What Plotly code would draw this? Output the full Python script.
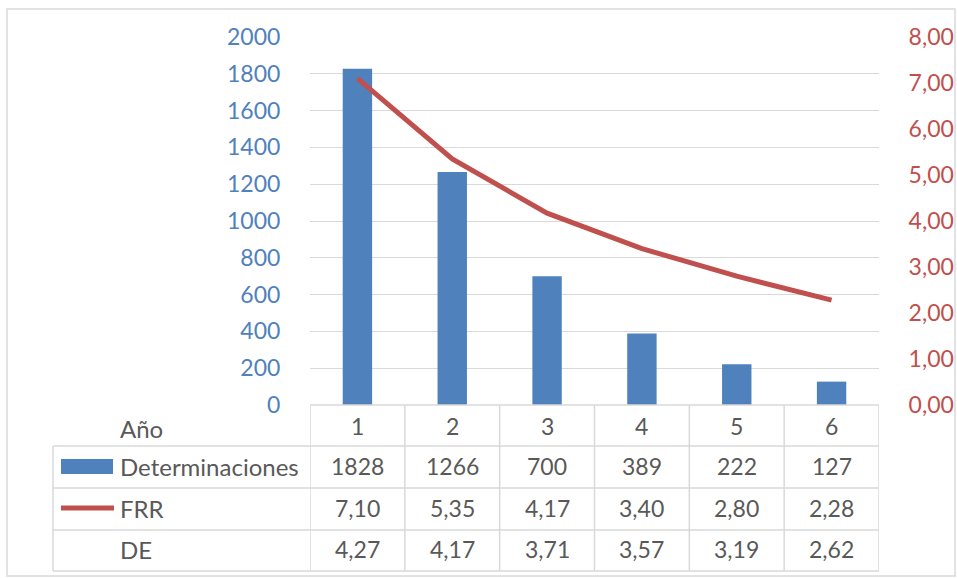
import plotly.graph_objects as go

# ---- data ----
years = ["1", "2", "3", "4", "5", "6"]
determinaciones = [1828, 1266, 700, 389, 222, 127]
frr = [7.10, 5.35, 4.17, 3.40, 2.80, 2.28]
de = [4.27, 4.17, 3.71, 3.57, 3.19, 2.62]
left_ticks = [0, 200, 400, 600, 800, 1000, 1200, 1400, 1600, 1800, 2000]
right_ticks = [0, 1, 2, 3, 4, 5, 6, 7, 8]
header_label = "Año"
row_labels = ["Determinaciones", "FRR", "DE"]

W, H = 957, 578
FONT = "Lato"
BLUE = "#4F81BD"
RED = "#C0504D"
TXT = "#595959"
GRID = "#D9D9D9"


def px(x):
    return x / W


def py(y):
    return 1 - y / H


fig = go.Figure()
fig.add_trace(go.Bar(x=years, y=determinaciones, marker=dict(color=BLUE, line=dict(width=0)),
                     width=0.31, name=row_labels[0], yaxis="y"))
fig.add_trace(go.Scatter(x=years, y=frr, mode="lines", line=dict(color=RED, width=5),
                         name=row_labels[1], yaxis="y2"))

shapes = []
# outer chart border
shapes.append(dict(type="rect", xref="paper", yref="paper", x0=px(7), x1=px(955), y0=py(576), y1=py(9),
                   line=dict(color="#D9D9D9", width=1.5), fillcolor="rgba(0,0,0,0)", layer="below"))

row_y = [405, 446, 488, 530, 571]
tl = dict(color=GRID, width=1.5)
# horizontal table lines
shapes.append(dict(type="line", xref="x", yref="paper", x0=-0.5, x1=5.5, y0=py(405), y1=py(405), line=tl))
for yy in row_y[1:]:
    shapes.append(dict(type="line", xref="paper", yref="paper", x0=px(53), x1=px(879), y0=py(yy), y1=py(yy), line=tl))
# vertical lines
shapes.append(dict(type="line", xref="paper", yref="paper", x0=px(53), x1=px(53), y0=py(446), y1=py(571), line=tl))
for i in range(len(years) + 1):
    shapes.append(dict(type="line", xref="x", yref="paper", x0=i - 0.5, x1=i - 0.5, y0=py(405), y1=py(571), line=tl))
# legend keys
shapes.append(dict(type="rect", xref="paper", yref="paper", x0=px(61), x1=px(113), y0=py(474), y1=py(459),
                   fillcolor=BLUE, line=dict(width=0)))
shapes.append(dict(type="line", xref="paper", yref="paper", x0=px(61), x1=px(114), y0=py(508), y1=py(508),
                   line=dict(color=RED, width=5)))

ann = []
fs = 23
fl = 24
ann.append(dict(text=header_label, xref="paper", yref="paper", x=px(118), y=py(428), xanchor="left",
                yanchor="middle", showarrow=False, font=dict(family=FONT, size=fl, color=TXT)))
for lab, yy in zip(row_labels, [466, 508, 549]):
    ann.append(dict(text=lab, xref="paper", yref="paper", x=px(118), y=py(yy), xanchor="left",
                    yanchor="middle", showarrow=False, font=dict(family=FONT, size=fl, color=TXT)))
rows = [
    (years, 426),
    ([str(v) for v in determinaciones], 466),
    ([f"{v:.2f}".replace(".", ",") for v in frr], 508),
    ([f"{v:.2f}".replace(".", ",") for v in de], 549),
]
for vals, yy in rows:
    for i, v in enumerate(vals):
        ann.append(dict(text=v, xref="x", yref="paper", x=i, y=py(yy), xanchor="center", yanchor="middle",
                        showarrow=False, font=dict(family=FONT, size=fs, color=TXT)))

fig.update_layout(
    width=W, height=H,
    margin=dict(l=0, r=0, t=0, b=0, autoexpand=False),
    paper_bgcolor="white", plot_bgcolor="white",
    showlegend=False,
    separators=",.",
    font=dict(family=FONT, size=fs),
    xaxis=dict(domain=[px(310), px(879)], range=[-0.5, 5.5], showticklabels=False, showgrid=False,
               zeroline=False, showline=False, ticks="", type="category", automargin=False),
    yaxis=dict(domain=[py(405), py(37)], range=[0, 2000], tickvals=left_ticks, tickformat="d",
               showgrid=True, gridcolor=GRID, gridwidth=1.3, zeroline=False, showline=False,
               ticks="outside", ticklen=24, tickcolor="rgba(0,0,0,0)", automargin=False,
               tickfont=dict(family=FONT, size=fs, color=BLUE)),
    yaxis2=dict(overlaying="y", side="right", range=[0, 8], tickvals=right_ticks, tickformat=".2f",
                showgrid=False, zeroline=False, showline=False, anchor="x", automargin=False,
                ticks="outside", ticklen=24, tickcolor="rgba(0,0,0,0)",
                tickfont=dict(family=FONT, size=fs, color=RED)),
    shapes=shapes,
    annotations=ann,
)

fig.write_html("out.html", config={"displayModeBar": False},
               post_script="document.body.style.margin='0';document.body.style.overflow='hidden';")
